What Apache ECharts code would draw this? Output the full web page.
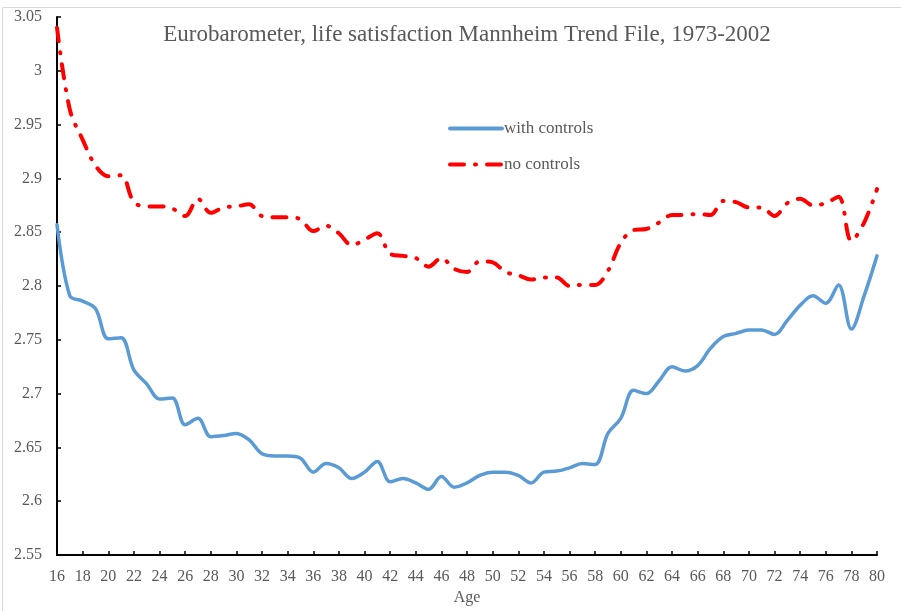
<!DOCTYPE html>
<html>
<head>
<meta charset="utf-8">
<title>Eurobarometer life satisfaction</title>
<script src="https://cdn.jsdelivr.net/npm/echarts@6/dist/echarts.min.js"></script>
<style>
  html, body { margin: 0; padding: 0; background: #fff; }
  #chart { width: 901px; height: 611px; }
</style>
</head>
<body>
<div id="chart"></div>
<script>
// ages 16..80
const ages = [16, 17, 18, 19, 20, 21, 22, 23, 24, 25, 26, 27, 28, 29, 30, 31, 32, 33, 34, 35, 36, 37, 38, 39, 40,
  41, 42, 43, 44, 45, 46, 47, 48, 49, 50, 51, 52, 53, 54, 55, 56, 57, 58, 59, 60, 61, 62, 63, 64, 65,
  66, 67, 68, 69, 70, 71, 72, 73, 74, 75, 76, 77, 78, 79, 80]

const withControls = [2.857, 2.791, 2.786, 2.779, 2.751, 2.752, 2.722, 2.709, 2.695, 2.696, 2.671, 2.677, 2.660,
  2.661, 2.663, 2.657, 2.644, 2.642, 2.642, 2.640, 2.627, 2.635, 2.631, 2.621, 2.627, 2.637, 2.618, 2.621,
  2.617, 2.611, 2.623, 2.613, 2.617, 2.624, 2.627, 2.627, 2.624, 2.617, 2.627, 2.628, 2.631, 2.635, 2.634,
  2.663, 2.677, 2.703, 2.700, 2.712, 2.725, 2.721, 2.726, 2.742, 2.753, 2.756, 2.759, 2.759, 2.755, 2.768,
  2.782, 2.791, 2.784, 2.801, 2.760, 2.791, 2.828]

const noControls = [3.040, 2.964, 2.936, 2.912, 2.902, 2.903, 2.878, 2.874, 2.874, 2.872, 2.865, 2.881, 2.868,
  2.873, 2.874, 2.876, 2.865, 2.864, 2.864, 2.862, 2.851, 2.856, 2.849, 2.838, 2.843, 2.849, 2.830, 2.828,
  2.826, 2.818, 2.826, 2.816, 2.813, 2.823, 2.822, 2.813, 2.810, 2.806, 2.808, 2.808, 2.800, 2.801, 2.801,
  2.814, 2.840, 2.852, 2.853, 2.859, 2.866, 2.866, 2.867, 2.866, 2.879, 2.878, 2.873, 2.873, 2.865, 2.877,
  2.881, 2.875, 2.877, 2.883, 2.842, 2.859, 2.890]

const seriesNames = ['with controls', 'no controls']

const textColor = '#595959'
const serif = '"Liberation Serif", "DejaVu Serif", serif'

const myChart = echarts.init(document.getElementById('chart'))

const option = {
  animation: false,
  title: {
    text: 'Eurobarometer, life satisfaction Mannheim Trend File, 1973-2002',
    left: 462,
    textAlign: 'center',
    top: 18,
    textStyle: {
      fontFamily: serif,
      fontWeight: 'normal',
      fontSize: 23,
      color: textColor
    }
  },
  legend: {
    orient: 'vertical',
    left: 443,
    top: 115,
    itemWidth: 52,
    itemHeight: 14,
    itemGap: 19,
    itemStyle: { opacity: 0 },
    lineStyle: { width: 4 },
    textStyle: {
      fontFamily: serif,
      fontSize: 17,
      color: textColor,
      padding: [0, 0, 0, -3]
    },
    data: seriesNames
  },
  graphic: [{
    type: 'rect',
    shape: { x: 2.5, y: 7.5, width: 1000, height: 1000 },
    style: { fill: 'none', stroke: '#d9d9d9', lineWidth: 1 },
    silent: true
  }],
  grid: {
    left: 57,
    right: 24,
    top: 17,
    bottom: 54
  },
  xAxis: {
    type: 'value',
    min: 16,
    max: 80,
    interval: 2,
    name: 'Age',
    nameLocation: 'middle',
    nameGap: 35,
    nameTextStyle: {
      fontFamily: serif,
      fontSize: 16,
      color: textColor
    },
    axisLine: { lineStyle: { color: '#000', width: 2 } },
    axisTick: { inside: true, length: 4, lineStyle: { color: '#000', width: 1.5 } },
    axisLabel: {
      margin: 14,
      fontFamily: serif,
      fontSize: 16,
      color: textColor
    },
    splitLine: { show: false }
  },
  yAxis: {
    type: 'value',
    min: 2.55,
    max: 3.05,
    interval: 0.05,
    axisLine: { show: true, lineStyle: { color: '#000', width: 2 } },
    axisTick: { show: true, inside: true, length: 4, lineStyle: { color: '#000', width: 1.5 } },
    axisLabel: {
      margin: 15,
      fontFamily: serif,
      fontSize: 16,
      color: textColor,
      formatter: v => String(+v.toFixed(2))
    },
    splitLine: { show: false }
  },
  series: [{
    name: seriesNames[0],
    type: 'line',
    smooth: 0.35,
    symbol: 'none',
    color: '#5B9BD5',
    lineStyle: { width: 3.5, color: '#5B9BD5', cap: 'round', join: 'round' },
    data: ages.map((a, i) => [a, withControls[i]])
  }, {
    name: seriesNames[1],
    type: 'line',
    smooth: 0.35,
    symbol: 'none',
    color: '#FF0000',
    lineStyle: { width: 4, color: '#FF0000', type: [14, 11, 1, 11], cap: 'round', join: 'round' },
    data: ages.map((a, i) => [a, noControls[i]])
  }]
}

myChart.setOption(option)
window.addEventListener('resize', () => {
  myChart.resize()
})
</script>
</body>
</html>
